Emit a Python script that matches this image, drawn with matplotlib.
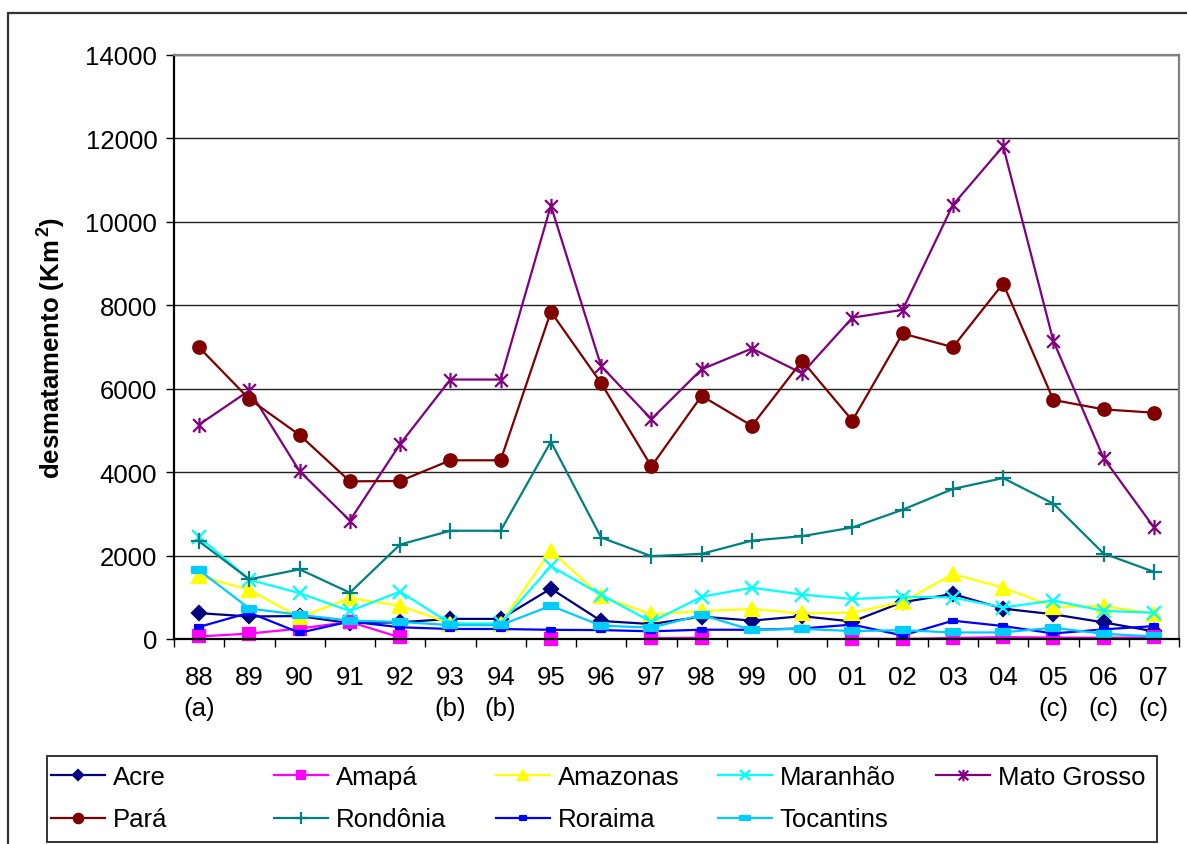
import numpy as np
import matplotlib
matplotlib.use("Agg")
import matplotlib.pyplot as plt
from matplotlib.path import Path
from matplotlib.patches import Rectangle

plt.rcParams["font.family"] = ["Liberation Sans", "DejaVu Sans"]
plt.rcParams["mathtext.fontset"] = "custom"
plt.rcParams["mathtext.rm"] = "Liberation Sans"
plt.rcParams["mathtext.bf"] = "Liberation Sans:bold"

years = ["88", "89", "90", "91", "92", "93", "94", "95", "96", "97",
         "98", "99", "00", "01", "02", "03", "04", "05", "06", "07"]
notes = ["(a)", "", "", "", "", "(b)", "(b)", "", "", "",
         "", "", "", "", "", "", "", "(c)", "(c)", "(c)"]

nan = np.nan
acre = [620, 540, 550, 380, 400, 482, 482, 1208, 433, 358, 536, 441, 547, 419, 883, 1078, 728, 592, 398, 184]
amapa = [60, 130, 250, 410, 36, nan, nan, 9, nan, 18, 30, nan, nan, 7, 0, 25, 46, 33, 30, 39]
amazonas = [1510, 1180, 520, 980, 799, 370, 370, 2114, 1023, 589, 670, 720, 612, 634, 885, 1558, 1232, 775, 788, 610]
maranhao = [2450, 1420, 1100, 670, 1135, 372, 372, 1745, 1061, 409, 1012, 1230, 1065, 958, 1014, 993, 755, 922, 674, 631]
mato_grosso = [5140, 5960, 4020, 2840, 4674, 6220, 6220, 10391, 6543, 5271, 6466, 6963, 6369, 7703, 7892, 10405, 11814, 7145, 4333, 2678]
para = [6990, 5750, 4890, 3780, 3787, 4284, 4284, 7845, 6135, 4139, 5829, 5111, 6671, 5237, 7324, 6996, 8521, 5731, 5505, 5425]
rondonia = [2340, 1430, 1670, 1110, 2265, 2595, 2595, 4730, 2432, 1986, 2041, 2358, 2465, 2673, 3099, 3597, 3858, 3244, 2049, 1611]
roraima = [290, 630, 150, 420, 281, 240, 240, 220, 214, 184, 223, 220, 253, 345, 84, 439, 311, 133, 231, 309]
tocantins = [1650, 730, 580, 440, 409, 333, 333, 797, 320, 273, 576, 216, 244, 189, 212, 156, 158, 271, 124, 63]


def bar_marker(ratio):
    return Path([(-1, -ratio), (1, -ratio), (1, ratio), (-1, ratio), (-1, -ratio)],
                [Path.MOVETO, Path.LINETO, Path.LINETO, Path.LINETO, Path.CLOSEPOLY])


# Excel style star: an "x" with a vertical bar through it
star = Path([(-1, -1), (1, 1), (-1, 1), (1, -1), (0, -1.2), (0, 1.2)],
            [Path.MOVETO, Path.LINETO, Path.MOVETO, Path.LINETO, Path.MOVETO, Path.LINETO])

series = [
    ("Acre", acre, "#000080", "D", 7),
    ("Amapá", amapa, "#FF00FF", "s", 8.5),
    ("Amazonas", amazonas, "#FFFF00", "^", 10),
    ("Maranhão", maranhao, "#00FFFF", "x", 10),
    ("Mato Grosso", mato_grosso, "#800080", star, 11),
    ("Pará", para, "#800000", "o", 9),
    ("Rondônia", rondonia, "#008080", "+", 11),
    ("Roraima", roraima, "#0000FF", bar_marker(0.5), 6),
    ("Tocantins", tocantins, "#00CCFF", bar_marker(0.4), 9.5),
]

W, H = 1187, 845
fig = plt.figure(figsize=(W / 100, H / 100), dpi=100)
ax = fig.add_axes([174 / W, 1 - 640 / H, (1179 - 174) / W, (640 - 56) / H])

x = np.arange(len(years))
handles = {}
for name, vals, color, marker, ms in series:
    (ln,) = ax.plot(x, vals, color=color, lw=1.6, marker=marker, markersize=ms,
                    markerfacecolor=color, markeredgecolor=color, markeredgewidth=1.6,
                    label=name, clip_on=False)
    handles[name] = ln

ax.set_xlim(-0.5, len(years) - 0.5)
ax.set_ylim(0, 14000)
ax.set_yticks(np.arange(0, 14001, 2000))
ax.tick_params(axis="y", labelsize=18.5, length=6, width=1, direction="out", pad=6)
ax.set_xticks(x)
ax.set_xticklabels([y + ("\n" + n if n else "") for y, n in zip(years, notes)],
                   fontsize=18.5, linespacing=1.35)
ax.tick_params(axis="x", length=0, pad=19)
ax.set_xticks(np.arange(-0.5, len(years)), minor=True)
ax.tick_params(axis="x", which="minor", length=6, width=1, direction="out")

ax.grid(axis="y", color="#222222", lw=1)
ax.set_axisbelow(True)
for side in ("left", "bottom"):
    ax.spines[side].set_color("black")
    ax.spines[side].set_linewidth(1.6)
for side in ("top", "right"):
    ax.spines[side].set_color("#808080")
    ax.spines[side].set_linewidth(1.6)

ax.set_ylabel(r"desmatamento (Km$^{\,\mathbf{2}}$)", fontsize=18.5, fontweight="bold")
ax.yaxis.set_label_coords((67 - 174) / (1179 - 174), 0.5)

# outer frame
fig.patches.append(Rectangle((8 / W, -0.05), 1.2, 1 - 14 / H + 0.05, transform=fig.transFigure,
                             fill=False, edgecolor="#333333", lw=1.6, zorder=-1))
# legend box
fig.patches.append(Rectangle((47 / W, 2 / H), (1157 - 47) / W, (843 - 757) / H,
                             transform=fig.transFigure, fill=False, edgecolor="#333333", lw=1.4))

columns = [["Acre", "Pará"], ["Amapá", "Rondônia"], ["Amazonas", "Roraima"],
           ["Maranhão", "Tocantins"], ["Mato Grosso"]]
col_x = [57, 280, 502, 724, 942]
for names, cx in zip(columns, col_x):
    fig.legend([handles[n] for n in names], names, loc="upper left",
               bbox_to_anchor=((cx - 6) / W, 1 - 766 / H), bbox_transform=fig.transFigure,
               frameon=False, fontsize=18.5, handlelength=2.1, handletextpad=0.3,
               labelspacing=0.72, borderpad=0, borderaxespad=0, markerscale=0.75)

fig.savefig("out.png", dpi=100)
